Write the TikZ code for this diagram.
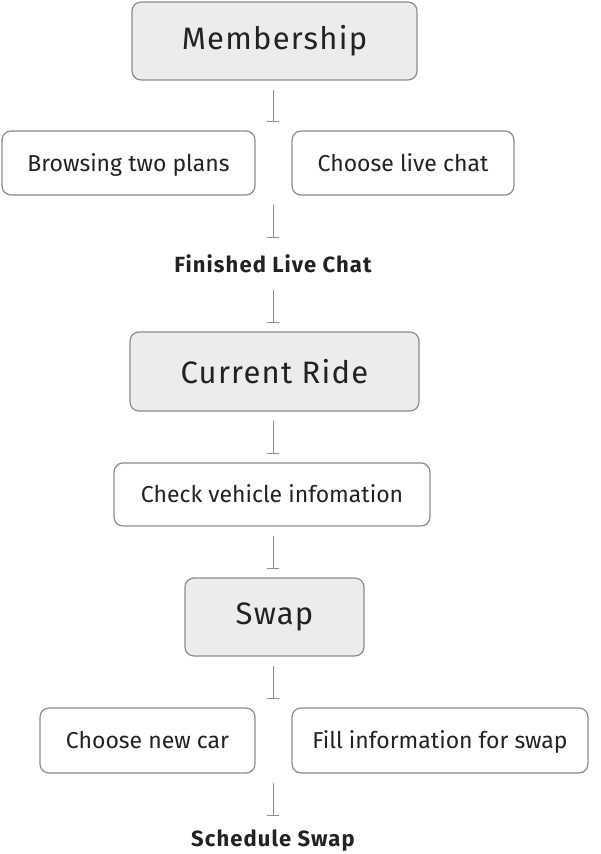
\documentclass[tikz,border=0pt]{standalone}
\usepackage{fontspec}
\setmainfont{Fira Sans}
\newfontfamily\stagefont{Fira Sans}[LetterSpace=4]
\newfontfamily\goalfont{Fira Sans}[LetterSpace=5]
\usetikzlibrary{arrows.meta}
\definecolor{edge}{HTML}{8C8C8C}
\definecolor{shade}{HTML}{ECECEC}
\definecolor{ink}{HTML}{222222}

\begin{document}
\begin{tikzpicture}[x=1pt,y=-1pt,
  stage/.style={draw=edge,fill=shade,rounded corners=9pt,line width=1.2pt,text=ink,
    font=\stagefont\fontsize{31}{35}\selectfont},
  task/.style={draw=edge,fill=white,rounded corners=9pt,line width=1.2pt,text=ink,
    minimum height=64pt,text height=16pt,text depth=0pt,font=\fontsize{23}{27}\selectfont},
  goal/.style={inner sep=0pt,text=ink,font=\goalfont\bfseries\fontsize{22}{26}\selectfont},
  link/.style={draw=edge,line width=1pt,-{Bar[width=12pt,line width=1pt]},
    shorten <=9pt,shorten >=8pt}]
\useasboundingbox (0,0) rectangle (600,854);
% stages
\node[stage,minimum width=285pt,minimum height=78pt] (member) at (274.5,41) {Membership};
\node[task,minimum width=253pt] (plans) at (128.5,163) {Browsing two plans};
\node[task,minimum width=222pt] (chat) at (403,163) {Choose live chat};
\node[goal,minimum height=35pt] (finished) at (273,263.5) {Finished Live Chat};
\node[stage,minimum width=289pt,minimum height=79pt] (ride) at (274.5,371.5) {Current Ride};
\node[task,minimum width=316pt,minimum height=63pt] (vehicle) at (272,494.5) {Check vehicle infomation};
\node[stage,minimum width=179pt,minimum height=78pt] (swap) at (274.5,617) {Swap};
\node[task,minimum width=215pt,minimum height=65pt] (newcar) at (147.5,740.5) {Choose new car};
\node[task,minimum width=296pt,minimum height=65pt] (fillin) at (440,740.5) {Fill information for swap};
\node[goal,minimum height=34pt] (schedule) at (273,841) {Schedule Swap};
% links
\draw[link] (member.south -| finished) -- (plans.north -| finished);
\draw[link] (plans.south -| finished) -- (finished.north);
\draw[link] (finished.south) -- (ride.north -| finished);
\draw[link] (ride.south -| finished) -- (vehicle.north -| finished);
\draw[link] (vehicle.south -| finished) -- (swap.north -| finished);
\draw[link] (swap.south -| finished) -- (newcar.north -| finished);
\draw[link] (newcar.south -| finished) -- (schedule.north);
\end{tikzpicture}
\end{document}
